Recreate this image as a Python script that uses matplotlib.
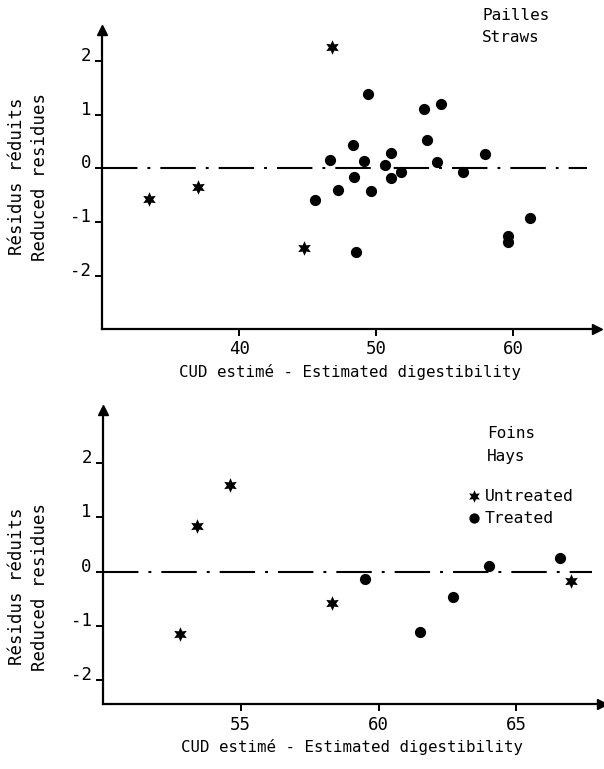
import matplotlib
matplotlib.use('Agg')
import matplotlib.pyplot as plt
import matplotlib.transforms as mtransforms

plt.rcParams['font.family'] = ['DejaVu Sans Mono']
plt.rcParams['font.size'] = 12.5
plt.rcParams['axes.unicode_minus'] = False

# Straws (Pailles)
straw_untreated_x = [33.4, 37.0, 44.7, 46.8]
straw_untreated_y = [-0.58, -0.34, -1.48, 2.27]
straw_treated_x = [49.4, 53.5, 54.7, 53.7, 48.3, 46.6, 49.1, 51.1, 50.6, 51.8, 51.1,
                   48.4, 54.4, 56.3, 57.9, 47.2, 49.6, 45.5, 48.5, 59.6, 59.6, 61.2]
straw_treated_y = [1.38, 1.10, 1.20, 0.52, 0.43, 0.16, 0.14, 0.28, 0.07, -0.06, -0.19,
                   -0.16, 0.12, -0.07, 0.26, -0.41, -0.43, -0.59, -1.57, -1.26, -1.38, -0.93]

# Hays (Foins)
hay_untreated_x = [53.4, 54.6, 52.8, 58.3, 67.0]
hay_untreated_y = [0.84, 1.59, -1.15, -0.57, -0.18]
hay_treated_x = [59.5, 61.5, 62.7, 64.0, 66.6]
hay_treated_y = [-0.14, -1.12, -0.47, 0.10, 0.26]

yticks = [-2, -1, 0, 1, 2]
xlabel = 'CUD estimé - Estimated digestibility'
ylabel = 'Résidus réduits\nReduced residues'

star = (6, 1, 0)
dashdot = (0, (17, 4.8, 1.4, 4.8))


def style_axes(ax, fig, label_y):
    ax.spines['top'].set_visible(False)
    ax.spines['right'].set_visible(False)
    for s in ['left', 'bottom']:
        ax.spines[s].set_linewidth(1.6)
    ax.plot(0, 1, marker='^', color='k', markersize=7, transform=ax.transAxes, clip_on=False)
    ax.plot(1, 0, marker='>', color='k', markersize=7, transform=ax.transAxes, clip_on=False)
    ax.tick_params(direction='out', length=5, width=1.4, pad=3)
    ax.set_yticks(yticks)
    offset = mtransforms.ScaledTranslation(0, 5 / 72, fig.dpi_scale_trans)
    for lbl in ax.get_yticklabels():
        lbl.set_transform(lbl.get_transform() + offset)
    ax.set_xlabel(xlabel, labelpad=4, fontsize=11.3)
    ax.set_ylabel(ylabel, linespacing=1.35)
    ax.yaxis.set_label_coords(-0.108, label_y)
    ax.axhline(0, color='k', linewidth=1.5, linestyle=dashdot, xmax=0.98)


fig = plt.figure(figsize=(6.04, 7.69), dpi=100)

ax1 = fig.add_axes([0.169, 0.572, 0.8195, 0.389])
ax1.scatter(straw_untreated_x, straw_untreated_y, marker=star, s=110, color='k', linewidths=0, zorder=3)
ax1.scatter(straw_treated_x, straw_treated_y, marker='o', s=65, color='k', linewidths=0, zorder=3)
ax1.set_xlim(30, 66.1)
ax1.set_ylim(-3, 2.58)
ax1.set_xticks([40, 50, 60])
style_axes(ax1, fig, 0.51)
ax1.text(0.768, 1.075, 'Pailles\nStraws', transform=ax1.transAxes, ha='left', va='top',
         linespacing=1.65, fontsize=11.5)

ax2 = fig.add_axes([0.1705, 0.084, 0.8257, 0.3827])
ax2.scatter(hay_untreated_x, hay_untreated_y, marker=star, s=110, color='k', linewidths=0, zorder=3)
ax2.scatter(hay_treated_x, hay_treated_y, marker='o', s=65, color='k', linewidths=0, zorder=3)
ax2.set_xlim(50, 68.1)
ax2.set_ylim(-2.45, 2.98)
ax2.set_xticks([55, 60, 65])
style_axes(ax2, fig, 0.40)
ax2.text(0.77, 0.945, 'Foins\nHays', transform=ax2.transAxes, ha='left', va='top',
         linespacing=1.65, fontsize=11.5)
ax2.scatter([0.744], [0.708], marker=star, s=80, color='k', linewidths=0, transform=ax2.transAxes, clip_on=False)
ax2.scatter([0.744], [0.633], marker='o', s=55, color='k', linewidths=0, transform=ax2.transAxes, clip_on=False)
ax2.text(0.765, 0.708, 'Untreated', transform=ax2.transAxes, ha='left', va='center', fontsize=11.8)
ax2.text(0.765, 0.633, 'Treated', transform=ax2.transAxes, ha='left', va='center', fontsize=11.8)

fig.savefig('out.png', dpi=100)
